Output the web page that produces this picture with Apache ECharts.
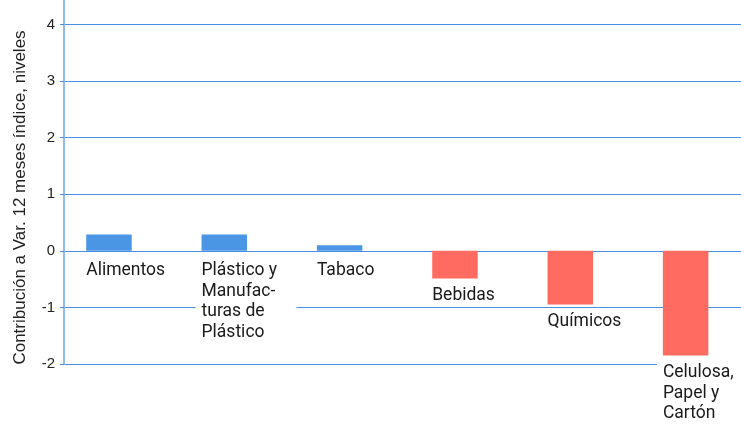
<!DOCTYPE html>
<html><head><meta charset="utf-8">
<script src="https://cdn.jsdelivr.net/npm/echarts@6/dist/echarts.min.js"></script>
<style>html,body{margin:0;padding:0;background:#fff}#c{width:741px;height:425px}</style>
</head><body><div id="c"></div>
<script>
const categories = ['Alimentos', 'Plástico y Manufacturas de Plástico', 'Tabaco', 'Bebidas', 'Químicos', 'Celulosa, Papel y Cartón'];
const labelTexts = ['Alimentos', 'Plástico y\nManufac-\nturas de\nPlástico', 'Tabaco', 'Bebidas', 'Químicos', 'Celulosa,\nPapel y\nCartón'];
const values = [0.29, 0.29, 0.10, -0.49, -0.95, -1.85];
const yTicks = [-2, -1, 0, 1, 2, 3, 4];
const yName = 'Contribución a Var. 12 meses índice, niveles';

const BLUE = '#4a95e4';
const RED = '#ff6b61';
const GRID = '#4a90e2';

const chart = echarts.init(document.getElementById('c'), null, {renderer: 'canvas'});
chart.setOption({
  animation: false,
  backgroundColor: '#fff',
  grid: {left: 64, top: -2, width: 692, bottom: 61, containLabel: false, outerBoundsMode: 'none'},
  xAxis: {
    type: 'category', data: categories, boundaryGap: true,
    axisLine: {show: false}, axisTick: {show: false}, axisLabel: {show: false}, splitLine: {show: false}
  },
  yAxis: {
    type: 'value', min: -2, max: 4.47, interval: 1,
    name: yName, nameLocation: 'middle', nameGap: 35,
    nameTextStyle: {fontFamily: 'Liberation Sans', fontSize: 17, color: '#222', padding: [0, 33, 0, 0]},
    axisLine: {show: true, lineStyle: {color: '#8dbaf0', width: 2}},
    axisTick: {show: true, length: 4, lineStyle: {color: GRID}},
    axisLabel: {
      margin: 9, fontFamily: 'Liberation Sans', fontSize: 15, color: '#222',
      showMaxLabel: false,
      formatter: v => yTicks.indexOf(Math.round(v * 100) / 100) >= 0 ? String(v) : ''
    },
    splitLine: {show: true, showMaxLine: false, lineStyle: {color: GRID, width: 1}}
  },
  series: [
    {
      type: 'bar', barWidth: 45.5, barGap: 0,
      data: values.map(v => ({
        value: v,
        itemStyle: {color: v >= 0 ? BLUE : RED},
        label: {offset: [0, v >= 0 ? 9 : 6]}
      })),
      label: {
        show: true,
        position: [-6, '100%'],
        align: 'left', verticalAlign: 'top',
        formatter: p => labelTexts[p.dataIndex],
        fontFamily: 'Roboto', fontSize: 17.5, lineHeight: 20.5, color: '#1a1a1a',
        backgroundColor: '#fff', padding: [1, 6, 0, 6], width: 89
      }
    },
    {type: 'bar', barWidth: 25.4, data: [], silent: true}
  ]
});
</script></body></html>
